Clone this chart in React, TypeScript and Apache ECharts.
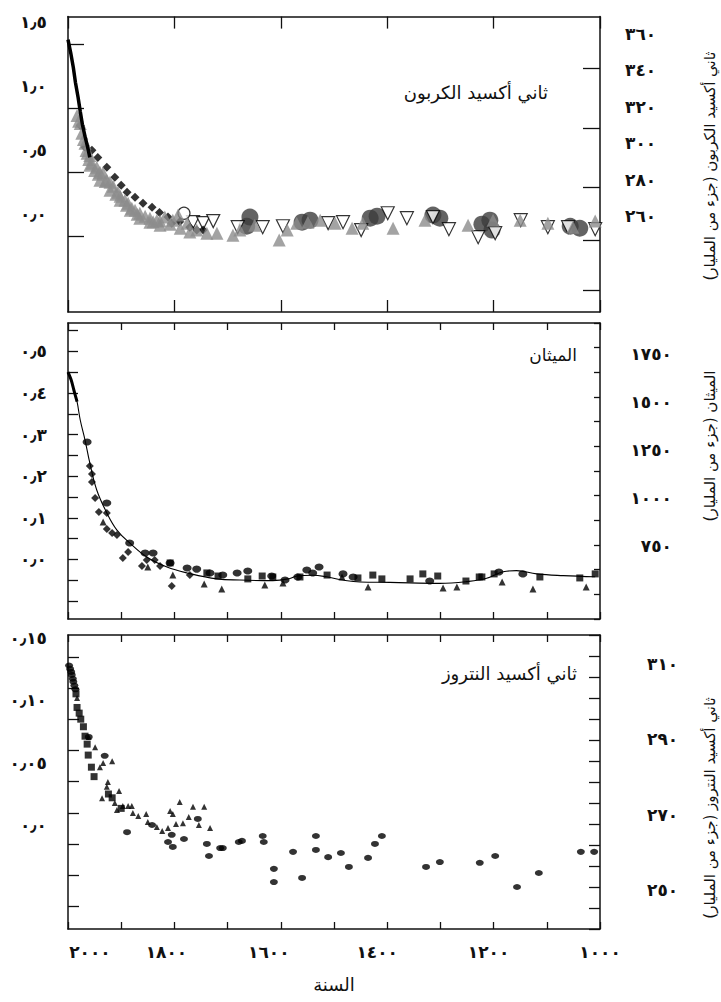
import { useEffect, useRef } from 'react';
import * as echarts from 'echarts';

// ---------- Carbon dioxide (ppm) ----------
const co2Atmospheric: [number, number][] = [
  [2000, 356.7], [1995, 349.6], [1990, 341.4], [1986, 333.2], [1981, 325.0],
  [1977, 317.4], [1973, 310.3], [1968, 303.7], [1963, 297.7], [1959, 292.2],
];
const co2LawDome: [number, number][] = [
  [1977, 309.7], [1968, 297.7], [1955, 296.1], [1944, 292.2], [1927, 286.8],
  [1912, 281.3], [1900, 277.0], [1889, 273.1], [1874, 270.4], [1859, 267.1],
  [1842, 264.9], [1828, 262.0], [1812, 259.5], [1805, 256.2], [1790, 257.0],
  [1771, 254.0], [1758, 252.4], [1746, 252.4],
];
const co2GreyCores: [number, number][] = [
  [1983, 315.2], [1980, 312.0], [1977, 310.8], [1974, 305.4], [1971, 302.0],
  [1968, 299.9], [1966, 296.0], [1964, 294.4], [1961, 291.0], [1959, 293.3],
  [1959, 287.9], [1955, 289.0], [1950, 285.0], [1946, 286.8], [1943, 283.0],
  [1940, 284.1], [1940, 279.7], [1934, 283.6], [1930, 279.0], [1927, 279.7],
  [1921, 278.6], [1921, 274.2], [1915, 276.4], [1910, 272.0], [1906, 273.1],
  [1902, 270.9], [1902, 268.7], [1893, 268.7], [1890, 266.0], [1887, 267.1],
  [1883, 263.3], [1880, 264.4], [1874, 263.3], [1870, 261.0], [1865, 261.6],
  [1865, 258.9], [1855, 260.0], [1846, 258.9], [1846, 256.7], [1840, 257.0],
  [1833, 257.8], [1827, 257.3], [1827, 255.1], [1818, 259.5], [1808, 255.6],
  [1803, 257.8], [1793, 260.6], [1789, 253.4], [1776, 256.2], [1771, 251.3],
  [1758, 252.4], [1739, 250.7], [1720, 250.7], [1690, 249.6], [1677, 252.4],
  [1649, 255.1], [1603, 246.9], [1588, 252.4], [1570, 256.2], [1549, 256.7],
  [1526, 257.8], [1498, 256.2], [1466, 253.4], [1446, 256.2], [1389, 253.4],
  [1329, 257.8], [1248, 255.1], [1201, 257.8], [1150, 257.8], [1098, 256.2],
  [1051, 254.0], [1009, 257.3],
];
const co2OpenTriangles: [number, number][] = [
  [1765, 256.7], [1746, 256.2], [1727, 257.3], [1681, 254.0], [1634, 254.0],
  [1596, 254.5], [1511, 256.2], [1483, 256.7], [1449, 252.4], [1399, 261.6],
  [1363, 258.9], [1314, 259.5], [1284, 252.9], [1229, 248.5], [1197, 250.7],
  [1149, 257.8], [1098, 254.0], [1060, 254.0], [1009, 252.9],
];
const co2DarkCircles: [number, number][] = [
  [1658, 259.5], [1664, 254.5], [1560, 256.7], [1545, 257.8], [1432, 258.9],
  [1419, 260.0], [1314, 260.6], [1301, 258.9], [1222, 255.6], [1207, 257.8],
  [1203, 252.4], [1056, 254.5], [1038, 253.4],
];
const co2OpenCircles: [number, number][] = [[1782, 261.6]];

// ---------- Methane (ppb) ----------
const ch4Atmospheric: [number, number][] = [
  [2000, 1656], [1994, 1615], [1989, 1563], [1983, 1502],
];
const ch4Fit: [number, number][] = [
  [2000, 1656], [1994, 1615], [1989, 1563], [1983, 1502], [1977, 1407],
  [1968, 1303], [1959, 1184], [1946, 1043], [1927, 924], [1908, 835],
  [1884, 768], [1852, 695], [1814, 643], [1776, 612], [1720, 581],
  [1677, 575], [1615, 572], [1583, 583], [1570, 596], [1540, 600],
  [1514, 592], [1483, 575], [1451, 565], [1395, 563], [1301, 558],
  [1251, 567], [1213, 584], [1182, 618], [1157, 624], [1119, 607],
  [1069, 598], [1009, 592],
];
const ch4Circles: [number, number][] = [
  [1964, 1293], [1927, 976], [1884, 768], [1855, 716], [1840, 716],
  [1808, 664], [1776, 638], [1758, 632], [1733, 612], [1709, 601],
  [1682, 612], [1662, 622], [1617, 596], [1592, 575], [1568, 591],
  [1551, 627], [1540, 612], [1528, 643], [1483, 607], [1464, 591],
  [1320, 570], [1190, 617], [1145, 607],
];
const ch4Diamonds: [number, number][] = [
  [1959, 1168], [1955, 1126], [1955, 1085], [1949, 1002], [1942, 929],
  [1927, 924], [1927, 840], [1917, 820], [1908, 809], [1897, 690],
  [1887, 721], [1861, 648], [1852, 679], [1837, 679], [1827, 648],
  [1805, 544], [1771, 601],
];
const ch4Triangles: [number, number][] = [
  [1934, 877], [1850, 643], [1803, 601], [1744, 555], [1711, 529],
  [1630, 549], [1596, 560], [1485, 591], [1436, 539], [1295, 534],
  [1269, 539], [1184, 565], [1126, 529], [1026, 539],
];
const ch4Squares: [number, number][] = [
  [1808, 664], [1739, 612], [1718, 596], [1662, 581], [1635, 596],
  [1615, 591], [1564, 591], [1513, 601], [1455, 586], [1427, 601],
  [1410, 581], [1357, 581], [1333, 607], [1305, 596], [1252, 570],
  [1227, 591], [1222, 591], [1199, 607], [1113, 591], [1038, 586],
  [1009, 607],
];

// ---------- Nitrous oxide (ppb) ----------
const n2oCircles: [number, number][] = [
  [1998, 309.5], [1996, 308.6], [1994, 307.8], [1993, 307.0], [1991, 306.0],
  [1990, 305.2], [1988, 304.2], [1986, 303.2],
  [1961, 290.6], [1931, 285.6], [1889, 265.4], [1842, 267.3], [1812, 262.8],
  [1805, 264.7], [1803, 261.5], [1782, 263.6], [1756, 268.9], [1739, 262.3],
  [1735, 259.1], [1714, 261.2], [1709, 261.2], [1679, 262.8], [1673, 263.1],
  [1634, 264.4], [1632, 262.8], [1613, 255.7], [1613, 252.2], [1577, 260.2],
  [1560, 253.3], [1534, 264.4], [1534, 260.7], [1511, 258.8], [1487, 259.9],
  [1472, 256.2], [1436, 258.6], [1423, 262.3], [1410, 264.4], [1327, 256.2],
  [1301, 257.5], [1226, 257.3], [1197, 259.1], [1156, 250.9], [1115, 254.6],
  [1036, 260.2], [1011, 260.2],
];
const n2oSquares: [number, number][] = [
  [1985, 302.0], [1983, 298.4], [1979, 296.9], [1976, 295.3], [1971, 293.3],
  [1968, 290.8], [1964, 288.7], [1962, 285.8], [1956, 282.6], [1951, 280.1],
  [1924, 275.5], [1917, 274.5], [1900, 271.7],
];
const n2oTriangles: [number, number][] = [
  [1983, 300.9], [1961, 290.6], [1949, 287.9], [1940, 282.6], [1934, 283.7],
  [1917, 284.2], [1936, 274.4], [1927, 277.4], [1925, 278.7], [1912, 273.1],
  [1908, 271.3], [1904, 276.3], [1897, 272.3], [1887, 272.3], [1880, 272.3],
  [1878, 270.5], [1868, 269.7], [1853, 270.2], [1850, 268.1], [1833, 266.8],
  [1823, 265.7], [1812, 266.5], [1808, 271.0], [1803, 270.2], [1797, 267.6],
  [1790, 273.4], [1784, 267.8], [1773, 269.4], [1765, 272.1], [1754, 267.3],
  [1744, 272.1], [1733, 266.5],
];

// ---------- Tick labels ----------
const yearLabels = [2000, 1800, 1600, 1400, 1200, 1000];
const co2Labels = [260, 280, 300, 320, 340, 360];
const co2ForcingLabels = [0, 0.5, 1.0, 1.5];
const ch4Labels = [750, 1000, 1250, 1500, 1750];
const ch4ForcingLabels = [0, 0.1, 0.2, 0.3, 0.4, 0.5];
const n2oLabels = [250, 270, 290, 310];
const n2oForcingLabels = [0, 0.05, 0.1, 0.15];

const co2ForcingTicks = [0, 0.5, 1.0, 1.5];
const ch4ForcingTicks = [-0.1, -0.05, 0, 0.05, 0.1, 0.15, 0.2, 0.25, 0.3, 0.35, 0.4, 0.45, 0.5, 0.55];
const n2oForcingTicks = [-0.05, -0.025, 0, 0.025, 0.05, 0.075, 0.1, 0.125, 0.15];

// ---------- Text ----------
const TITLE_CO2 = 'ثاني أكسيد الكربون';
const TITLE_CH4 = 'الميثان';
const TITLE_N2O = 'ثاني أكسيد النتروز';
const UNIT_CO2 = 'ثاني أكسيد الكربون (جزء من المليار)\u200f';
const UNIT_CH4 = 'الميثان (جزء من المليار)\u200f';
const UNIT_N2O = 'ثاني أكسيد النتروز (جزء من المليار)\u200f';
const X_TITLE = 'السنة';

const INK = '#111';
const FONT = '"DejaVu Sans", "Noto Sans", sans-serif';
const ARABIC_DIGITS = '٠١٢٣٤٥٦٧٨٩';
const toArabic = (s: string) =>
  s.replace(/\d/g, (d) => ARABIC_DIGITS[Number(d)]).replace('.', '\u066B');

// horizontal nudge (px) of each year label under the bottom axis
const yearLabelShift: Record<number, number> = {
  2000: 22, 1800: -8, 1600: -12, 1400: -10, 1200: -5, 1000: 0,
};

const numberText = { fontSize: 17, fontWeight: 'bold' as const, fontFamily: FONT, color: INK };
const lineStyle = { color: INK, width: 1.5 };
const tickStyle = { color: INK, width: 1.3 };

function xAxes(gridIndex: number, interval: number, tickLen: number, withLabels: boolean) {
  const base = {
    type: 'value' as const,
    gridIndex,
    min: 1000,
    max: 2000,
    inverse: true,
    interval,
    splitLine: { show: false },
    axisLine: { show: true, onZero: false, lineStyle },
    axisTick: { show: true, inside: true, length: tickLen, lineStyle: tickStyle },
  };
  const rich: Record<string, any> = {};
  yearLabels.forEach((y) => {
    const s = yearLabelShift[y] || 0;
    rich['y' + y] = {
      ...numberText,
      padding: s >= 0 ? [0, 0, 0, 2 * s] : [0, -2 * s, 0, 0],
    };
  });
  const bottom: any = {
    ...base,
    position: 'bottom',
    axisLabel: withLabels
      ? {
          show: true,
          customValues: yearLabels,
          margin: 14,
          formatter: (v: number) => `{y${v}|${toArabic(String(v))}}`,
          rich,
        }
      : { show: false },
  };
  if (withLabels) {
    Object.assign(bottom, {
      name: X_TITLE,
      nameLocation: 'middle',
      nameGap: 46,
      nameTextStyle: { fontSize: 18, fontFamily: FONT, color: INK },
    });
  }
  const top = { ...base, position: 'top', axisLabel: { show: false } };
  return [bottom, top];
}

function yAxes(
  gridIndex: number,
  conc: { min: number; max: number; labels: number[]; margin: number; align: 'left' | 'right' },
  forcing: {
    min: number; max: number; ticks: number[]; labels: number[]; tickLen: number;
    lift: number; fmt: (v: number) => string;
  },
  rightTicks: { max: number; tickLen: number; values?: number[] },
) {
  const forcingLabel: any = {
    ...numberText,
    customValues: forcing.labels,
    margin: 21,
    formatter: forcing.fmt,
  };
  if (forcing.lift > 0) {
    // labels sit above their tick marks
    forcingLabel.verticalAlign = 'bottom';
    forcingLabel.lineHeight = 2 * forcing.lift;
  }
  return [
    {
      type: 'value', gridIndex, position: 'right', min: conc.min, max: conc.max,
      splitLine: { show: false },
      axisLine: { show: true, onZero: false, lineStyle },
      axisTick: { show: false },
      axisLabel: {
        ...numberText,
        customValues: conc.labels,
        margin: conc.margin,
        align: conc.align,
        formatter: (v: number) => toArabic(String(Math.round(v))),
      },
    },
    {
      type: 'value', gridIndex, position: 'left', min: forcing.min, max: forcing.max,
      splitLine: { show: false },
      axisLine: { show: true, onZero: false, lineStyle },
      axisTick: {
        show: true, inside: true, length: forcing.tickLen,
        customValues: forcing.ticks, lineStyle: tickStyle,
      },
      axisLabel: forcingLabel,
    },
    {
      type: 'value', gridIndex, position: 'right', min: 0, max: rightTicks.max,
      ...(rightTicks.values ? {} : { interval: 1 }),
      splitLine: { show: false },
      axisLine: { show: false },
      axisLabel: { show: false },
      axisTick: {
        show: true, inside: true, length: rightTicks.tickLen, lineStyle: tickStyle,
        ...(rightTicks.values ? { customValues: rightTicks.values } : {}),
      },
    },
  ];
}

const oneDecimal = (v: number) => toArabic(v.toFixed(1));
const twoDecimals = (v: number) => (Math.abs(v) < 1e-9 ? toArabic('0.0') : toArabic(v.toFixed(2)));

function scatter(
  panel: number, data: [number, number][], symbol: string, size: number | number[],
  itemStyle: any, extra: any = {},
) {
  return {
    type: 'scatter', xAxisIndex: panel * 2, yAxisIndex: panel * 3, data, symbol,
    symbolSize: size, itemStyle, ...extra,
  };
}

function line(panel: number, data: [number, number][], width: number, smooth = 0.3) {
  return {
    type: 'line', xAxisIndex: panel * 2, yAxisIndex: panel * 3, data,
    showSymbol: false, symbol: 'none', smooth,
    lineStyle: { color: '#000', width }, z: 5,
  };
}

function titleText(x: number, y: number, text: string, fontSize: number) {
  return {
    type: 'text', x, y,
    style: { text, fill: INK, fontSize, fontFamily: FONT, align: 'right', verticalAlign: 'middle' },
  };
}

function unitText(x: number, y: number, text: string) {
  return {
    type: 'text', x, y, rotation: Math.PI / 2,
    style: { text, fill: INK, fontSize: 15, fontFamily: FONT, align: 'center', verticalAlign: 'middle' },
  };
}

function buildOption() {
  const black = { color: '#000' };
  return {
    animation: false,
    backgroundColor: '#fff',
    grid: [
      { left: 68, top: 16, width: 532, height: 296 },
      { left: 68, top: 323, width: 532, height: 296 },
      { left: 68, top: 635, width: 532, height: 294 },
    ],
    xAxis: [
      ...xAxes(0, 200, 12, false),
      ...xAxes(1, 100, 7, false),
      ...xAxes(2, 100, 7, true),
    ],
    yAxis: [
      ...yAxes(
        0,
        { min: 207.54, max: 369.29, labels: co2Labels, margin: 25, align: 'left' },
        { min: -0.593, max: 1.714, ticks: co2ForcingTicks, labels: co2ForcingLabels, tickLen: 16, lift: 22, fmt: oneDecimal },
        { max: 296, tickLen: 17, values: [22, 72, 125, 184, 244] },
      ),
      ...yAxes(
        1,
        { min: 372.6, max: 1911.2, labels: ch4Labels, margin: 72, align: 'right' },
        { min: -0.1435, max: 0.5685, ticks: ch4ForcingTicks, labels: ch4ForcingLabels, tickLen: 10, lift: 0, fmt: oneDecimal },
        { max: 12, tickLen: 6 },
      ),
      ...yAxes(
        2,
        { min: 239.79, max: 317.57, labels: n2oLabels, margin: 47, align: 'left' },
        { min: -0.0681, max: 0.1675, ticks: n2oForcingTicks, labels: n2oForcingLabels, tickLen: 11, lift: 19, fmt: twoDecimals },
        { max: 14, tickLen: 11 },
      ),
    ],
    series: [
      // carbon dioxide
      scatter(0, co2DarkCircles, 'circle', 17, { color: '#3c3c3c' }),
      scatter(0, co2OpenTriangles, 'triangle', 13, { color: '#fff', borderColor: '#000', borderWidth: 1.2 }, { symbolRotate: 180 }),
      scatter(0, co2OpenCircles, 'circle', 12, { color: '#fff', borderColor: '#000', borderWidth: 1.2 }),
      scatter(0, co2LawDome, 'diamond', 9, black),
      scatter(0, co2GreyCores, 'triangle', 13, { color: '#8c8c8c' }),
      line(0, co2Atmospheric, 3.5, 0),
      // methane
      line(1, ch4Fit, 1.1, 0.4),
      line(1, ch4Atmospheric, 3, 0.3),
      scatter(1, ch4Circles, 'circle', [9, 7], black),
      scatter(1, ch4Diamonds, 'diamond', 8, black),
      scatter(1, ch4Triangles, 'triangle', 7, black),
      scatter(1, ch4Squares, 'rect', 7, black),
      // nitrous oxide
      scatter(2, n2oCircles, 'circle', [8, 6], black),
      scatter(2, n2oSquares, 'rect', 7, black),
      scatter(2, n2oTriangles, 'triangle', 6, black),
    ],
    graphic: [
      titleText(548, 92, TITLE_CO2, 18),
      titleText(577, 355, TITLE_CH4, 17),
      titleText(577, 673, TITLE_N2O, 18),
      unitText(710, 166, UNIT_CO2),
      unitText(710, 446, UNIT_CH4),
      unitText(710, 808, UNIT_N2O),
    ],
  };
}

export default function App() {
  const ref = useRef<HTMLDivElement>(null);
  useEffect(() => {
    if (!ref.current) return;
    const chart = echarts.init(ref.current, undefined, { renderer: 'svg' });
    chart.setOption(buildOption() as any);
    return () => chart.dispose();
  }, []);
  return (
    <div
      ref={ref}
      style={{ position: 'absolute', left: 0, top: 0, width: 721, height: 1002, background: '#fff' }}
    />
  );
}
